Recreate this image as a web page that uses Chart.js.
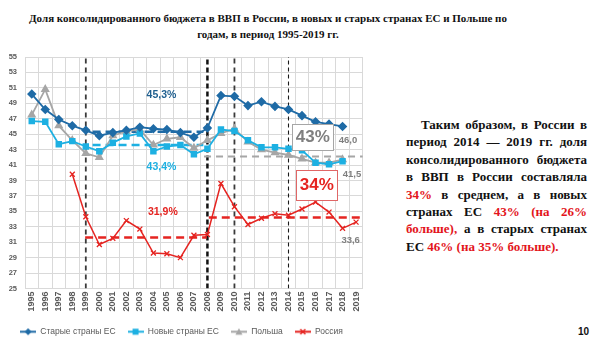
<!DOCTYPE html>
<html><head><meta charset="utf-8">
<script src="https://cdn.jsdelivr.net/npm/chart.js@4/dist/chart.umd.min.js"></script>
<style>
html,body{margin:0;padding:0;background:#fff;width:600px;height:349px;overflow:hidden;}
#wrap{position:absolute;left:0;top:0;width:370px;height:349px;}
#title{position:absolute;left:-2px;width:540px;top:10px;font:bold 11px "Liberation Serif","Times New Roman",serif;line-height:16px;text-align:center;color:#111;white-space:nowrap;}
#note{position:absolute;left:406px;top:116px;width:181px;font:bold 13px "Liberation Serif","Times New Roman",serif;line-height:17.4px;color:#111;}
#note div{text-align:justify;text-align-last:justify;}
#note div.last{text-align:left;text-align-last:left;}
#note .r{color:#E3141B;}
#page{position:absolute;left:578px;top:326px;font:bold 10px "Liberation Sans",Arial,sans-serif;color:#111;}
</style></head>
<body>
<div id="title">Доля консолидированного бюджета в ВВП в России, в новых и старых странах ЕС и Польше по<br>годам, в период 1995-2019 гг.</div>
<div id="wrap"><canvas id="c" width="370" height="349"></canvas></div>
<div id="note">
<div style="text-indent:15px">Таким образом, в России в</div>
<div>период 2014 — 2019 гг. доля</div>
<div>консолидированного бюджета</div>
<div>в ВВП в России составляла</div>
<div><span class="r">34%</span> в среднем, а в новых</div>
<div>странах ЕС <span class="r">43%</span> <span class="r">(на 26%</span></div>
<div><span class="r">больше),</span> а в старых странах</div>
<div class="last">ЕС <span class="r">46% (на 35% больше).</span></div>
</div>
<div id="page">10</div>
<script>
// ---- data ----
const years = ['1995','1996','1997','1998','1999','2000','2001','2002','2003','2004','2005','2006','2007','2008','2009','2010','2011','2012','2013','2014','2015','2016','2017','2018','2019'];
const oldEU  = [50.2,48.2,46.9,46.1,45.5,44.8,45.2,45.5,45.9,45.7,45.6,45.2,44.6,45.8,50.0,49.9,48.7,49.2,48.6,48.2,47.4,46.6,46.3,46.0,null];
const newEU  = [46.7,46.6,43.7,44.1,43.4,42.8,43.9,44.7,45.1,42.8,43.4,43.6,42.4,43.1,45.6,45.4,44.2,43.3,43.3,43.1,42.9,41.3,41.1,41.5,null];
const poland = [47.5,50.8,46.1,44.2,42.5,42.0,44.8,45.4,45.6,43.6,44.4,44.6,43.2,44.2,45.1,45.7,44.0,43.0,42.6,42.3,41.8,41.3,41.3,41.7,null];
const russia = [null,null,null,39.8,34.3,30.7,31.5,33.8,32.7,29.6,29.5,29.0,31.9,32.0,38.6,35.6,33.3,34.1,34.7,34.5,35.3,36.2,34.9,32.8,33.6];
const seriesNames = ['Старые страны ЕС','Новые страны ЕС','Польша','Россия'];
// average levels and the periods they cover (years)
const avgOldEU  = {value:45.3, from:1999.5, to:2007.7};
const avgNewEU  = {value:43.6, from:1999.5, to:2007.7};
const avgRus1   = {value:31.6, from:1998.95, to:2007.95};
const avgRus2   = {value:34.2, from:2008.1, to:2019.5};
const avgGray   = {value:42.1, from:2007.75, to:2019.5};
const markerYears = [1999, 2008, 2010, 2014];
const yMin = 25, yMax = 55;

// ---- styles ----
const C_OLD='#1F6BA6', C_NEW='#1DB0E2', C_POL='#A6A6A6', C_RUS='#E52421';
const base = 1995;
const yi = y => y - base;

const notes = [
  {text:'45,3%', at:[2004.6,50.1], font:'bold 10.5px "Liberation Sans",Arial,sans-serif', color:'#1F5F8F'},
  {text:'43,4%', at:[2004.6,40.8], font:'bold 10.5px "Liberation Sans",Arial,sans-serif', color:'#1DB0E2'},
  {text:'31,9%', at:[2004.7,34.9], font:'bold 10.5px "Liberation Sans",Arial,sans-serif', color:'#E52421'},
  {text:'43%', at:[2015.8,44.6], font:'bold 17px "Liberation Sans",Arial,sans-serif', color:'#7F7F7F', box:[41,26], boxColor:'#A6A6A6'},
  {text:'46,0', at:[2018.4,44.2], font:'bold 9.5px "Liberation Sans",Arial,sans-serif', color:'#7F7F7F'},
  {text:'41,5', at:[2018.7,39.9], font:'bold 9.5px "Liberation Sans",Arial,sans-serif', color:'#7F7F7F'},
  {text:'34%', at:[2016.1,38.4], font:'bold 17px "Liberation Sans",Arial,sans-serif', color:'#E52421', box:[41,30], boxColor:'#E06666'},
  {text:'33,6', at:[2018.6,31.3], font:'bold 9.5px "Liberation Sans",Arial,sans-serif', color:'#7F7F7F'}
];

function hline(a, color, width, dash){
  return {type:'line', xAxisID:'x2', data:[{x:yi(a.from),y:a.value},{x:yi(a.to),y:a.value}],
    borderColor:color, borderWidth:width, borderDash:dash, pointRadius:0, fill:false, order:5, isAux:true};
}
function vline(year, color, width, dash){
  return {type:'line', xAxisID:'x2', data:[{x:yi(year),y:yMin},{x:yi(year),y:yMax}],
    borderColor:color, borderWidth:width, borderDash:dash, pointRadius:0, fill:false, order:6, isAux:true};
}

function icon(color, style){
  const c=document.createElement('canvas'); c.width=16; c.height=9;
  const g=c.getContext('2d');
  g.strokeStyle=color; g.fillStyle=color; g.lineWidth=2;
  g.beginPath(); g.moveTo(0,4.5); g.lineTo(16,4.5); g.stroke();
  g.beginPath();
  if(style==='rectRot'){ g.moveTo(8,1); g.lineTo(11.5,4.5); g.lineTo(8,8); g.lineTo(4.5,4.5); g.closePath(); g.fill(); }
  else if(style==='rect'){ g.fillRect(5,1.5,6,6); }
  else if(style==='triangle'){ g.moveTo(8,1); g.lineTo(11.5,7.5); g.lineTo(4.5,7.5); g.closePath(); g.fill(); }
  else { g.lineWidth=1.5; g.moveTo(5.5,2); g.lineTo(10.5,7); g.moveTo(10.5,2); g.lineTo(5.5,7); g.stroke(); }
  return c;
}

const mainSeries = [
  {label:seriesNames[0], data:oldEU,  borderColor:C_OLD, backgroundColor:C_OLD, pointStyle:'rectRot', pointRadius:3.5, borderWidth:1.8},
  {label:seriesNames[1], data:newEU,  borderColor:C_NEW, backgroundColor:C_NEW, pointStyle:'rect', pointRadius:3.3, borderWidth:1.8},
  {label:seriesNames[2], data:poland, borderColor:C_POL, backgroundColor:C_POL, pointStyle:'triangle', pointRadius:3.5, borderWidth:1.8},
  {label:seriesNames[3], data:russia, borderColor:C_RUS, backgroundColor:C_RUS, pointStyle:'crossRot', pointRadius:3.5, pointBorderWidth:1.3, borderWidth:1.5}
].map((d,i)=>Object.assign({type:'line', xAxisID:'x', tension:0, fill:false, spanGaps:false, order:1+i*0.1, icon:icon(d.borderColor,d.pointStyle)}, d));

const auxSeries = [
  vline(markerYears[0], '#3A3A3A', 1.8, [5,4]),
  vline(markerYears[1], '#111111', 2.5, [5,3]),
  vline(markerYears[2], '#3A3A3A', 1.8, [5,4]),
  vline(markerYears[3], '#1A1A1A', 1.1, [4,3]),
  hline(avgOldEU, '#1F6BA6', 2.5, [8,5]),
  hline(avgNewEU, '#1DB0E2', 2.5, [8,5]),
  hline(avgRus1, '#E52421', 2.5, [8,5]),
  hline(avgRus2, '#E52421', 2.5, [8,5]),
  hline(avgGray, '#A6A6A6', 2, [7,5])
];

const notesPlugin = {
  id:'notes',
  afterDatasetsDraw(chart){
    const ctx=chart.ctx, xs=chart.scales.x2, ys=chart.scales.y;
    notes.forEach(n=>{
      const px=xs.getPixelForValue(yi(n.at[0])), py=ys.getPixelForValue(n.at[1]);
      ctx.save();
      if(n.box){
        ctx.fillStyle='#fff';
        ctx.fillRect(px-n.box[0]/2, py-n.box[1]/2, n.box[0], n.box[1]);
        ctx.strokeStyle=n.boxColor; ctx.lineWidth=1;
        ctx.strokeRect(Math.round(px-n.box[0]/2)+0.5, Math.round(py-n.box[1]/2)+0.5, n.box[0], n.box[1]);
      }
      ctx.font=n.font; ctx.fillStyle=n.color; ctx.textAlign='center'; ctx.textBaseline='middle';
      ctx.fillText(n.text, px, py+0.5);
      ctx.restore();
    });
  }
};

new Chart(document.getElementById('c'), {
  data:{labels:years, datasets:[...mainSeries, ...auxSeries]},
  options:{
    responsive:false, animation:false,
    layout:{padding:{top:57, right:7, left:0, bottom:3}},
    plugins:{
      tooltip:{enabled:false},
      title:{display:false},
      legend:{
        position:'bottom',
        labels:{
          usePointStyle:true, pointStyleWidth:16, boxHeight:9, padding:12,
          color:'#595959', font:{family:'"Liberation Sans", Arial, sans-serif', size:8.5},
          generateLabels(chart){
            return chart.data.datasets.map((d,i)=>({d,i})).filter(o=>!o.d.isAux).map(o=>({
              text:o.d.label, pointStyle:o.d.icon, fillStyle:o.d.borderColor, strokeStyle:o.d.borderColor,
              lineWidth:0, hidden:false, datasetIndex:o.i, fontColor:'#595959'
            }));
          }
        }
      }
    },
    scales:{
      x:{type:'category', offset:true,
        grid:{offset:true, color:'#D9D9D9', drawTicks:false},
        border:{color:'#D9D9D9'},
        ticks:{autoSkip:false, minRotation:90, maxRotation:90, padding:3, color:'#595959',
          font:{family:'"Liberation Sans", Arial, sans-serif', size:9, weight:'bold'}},
        afterFit(s){ s.height=27; }
      },
      x2:{type:'linear', display:false, min:-0.5, max:24.5},
      y:{min:yMin, max:yMax,
        grid:{color:'#D9D9D9', drawTicks:false},
        border:{color:'#D9D9D9'},
        ticks:{stepSize:2, padding:8, color:'#595959',
          font:{family:'"Liberation Sans", Arial, sans-serif', size:7.5, weight:'bold'}},
        afterFit(s){ s.width=25; }
      }
    }
  },
  plugins:[notesPlugin]
});
</script>
</body></html>
